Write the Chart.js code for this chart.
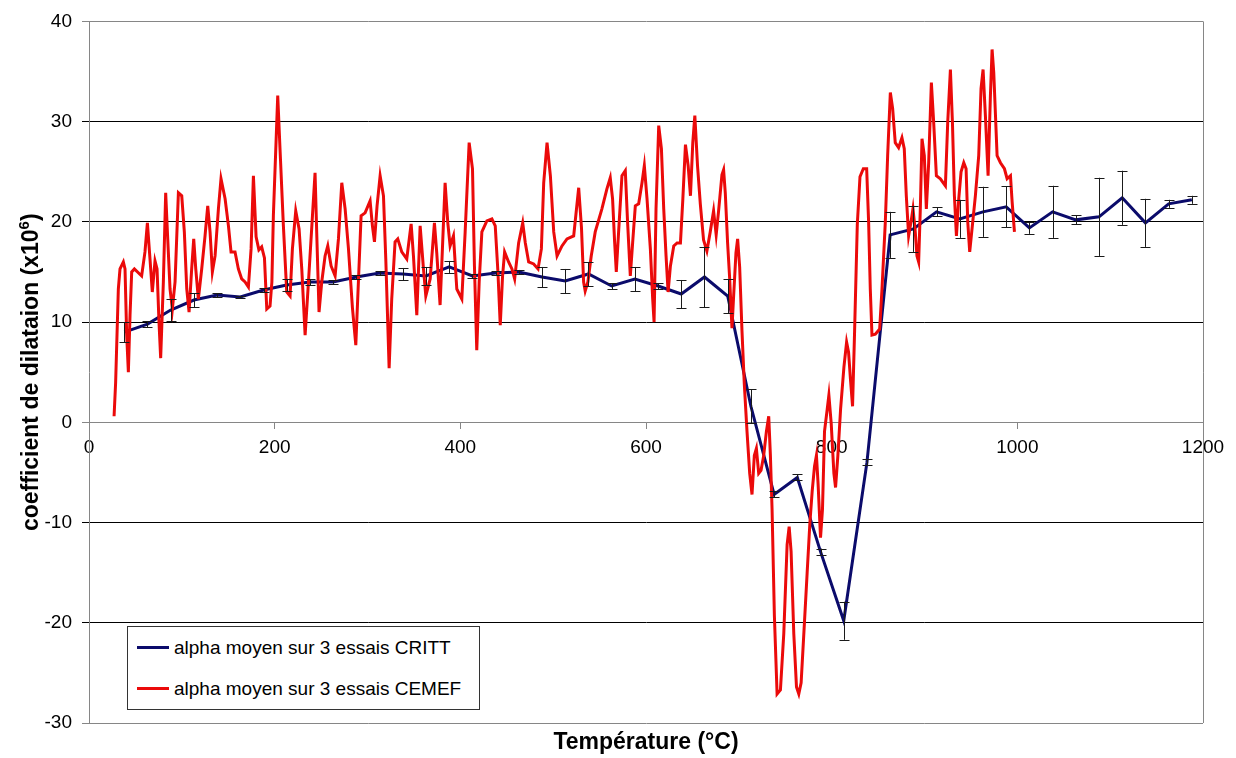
<!DOCTYPE html>
<html>
<head>
<meta charset="utf-8">
<script src="https://cdn.jsdelivr.net/npm/chart.js@4/dist/chart.umd.min.js"></script>
<style>
  html, body { margin: 0; padding: 0; background: #fff; }
  #wrap { position: relative; width: 1236px; height: 758px; }
  #legend {
    position: absolute; left: 127px; top: 626px; width: 351px; height: 82px;
    border: 1px solid #333; background: #fff;
    font-family: "Liberation Sans", Arial, sans-serif; font-size: 19px; color: #000;
  }
  .row { position: absolute; left: 9px; height: 22px; line-height: 22px; white-space: nowrap; }
  .row span.swatch { display: inline-block; width: 32px; height: 3px; vertical-align: middle; margin-right: 5px; position: relative; top: -1px; }
</style>
</head>
<body>
<div id="wrap">
  <canvas id="chart" width="1236" height="758"></canvas>
  <div id="legend">
    <div class="row" style="top:10px"><span class="swatch" style="background:#0b0b6b"></span>alpha moyen sur 3 essais CRITT</div>
    <div class="row" style="top:51px"><span class="swatch" style="background:#eb0a0a"></span>alpha moyen sur 3 essais CEMEF</div>
  </div>
</div>
<script>
// --- DATA ---
// CRITT: mean of 3 runs, with error bar half-widths
const critTemp = [38, 63, 88, 113, 138, 163, 188, 213, 238, 263, 288, 313, 338, 363, 388, 413,
  438, 463, 488, 513, 538, 563, 588, 613, 638, 663, 688, 713, 738, 763, 788, 813, 838, 863,
  888, 913, 938, 963, 988, 1013, 1038, 1063, 1088, 1113, 1138, 1163, 1188];
const critAlpha = [9.0, 9.8, 11.2, 12.2, 12.7, 12.5, 13.2, 13.7, 14.0, 14.0, 14.5, 14.9, 14.8, 14.6, 15.5, 14.6,
  14.9, 15.0, 14.5, 14.1, 14.8, 13.6, 14.3, 13.6, 12.8, 14.5, 12.6, 1.6, -7.2, -5.5, -12.9, -19.8, -4.0, 18.7,
  19.3, 21.0, 20.3, 21.0, 21.5, 19.4, 21.0, 20.2, 20.5, 22.4, 19.9, 21.8, 22.2];
const critErr = [1.0, 0.3, 1.1, 0.7, 0.2, 0.1, 0.2, 0.6, 0.3, 0.2, 0.2, 0.2, 0.6, 0.9, 0.6, 0.2,
  0.2, 0.2, 1.0, 1.2, 1.2, 0.3, 1.2, 0.3, 1.4, 3.0, 1.7, 1.7, 0.3, 0.3, 0.3, 1.9, 0.3, 2.3,
  2.3, 0.45, 1.9, 2.5, 2.05, 0.6, 2.6, 0.45, 3.9, 2.7, 2.4, 0.4, 0.4];

// CEMEF: mean of 3 runs
const cemefTemp = [27, 28.7, 31.6, 33.4, 37, 38.8, 40.6, 42.4, 44.2, 46, 48.9, 56.7, 60.3, 62.9, 65.7, 68.2,
  71.1, 73.3, 75.4, 77.2, 80.1, 82.6, 84.8, 87.3, 89.8, 92.7, 96.3, 99.9, 102.7, 105.3, 107.8, 110.6,
  112.8, 115, 117.8, 121.4, 125, 127.9, 130.4, 132.9, 135.8, 139.4, 142.2, 146.6, 150.2, 153, 157.3, 160.9,
  164.5, 168.1, 171.7, 174.6, 177.1, 180, 183, 186, 189, 191.5, 195, 197, 198.6, 203.3, 205.8, 209.4,
  213, 216.6, 219.1, 222.7, 226.3, 229.2, 232.8, 236.4, 240.7, 243.5, 245.3, 247.8, 250.7, 254.3, 257.2, 260.8,
  265.1, 268.7, 272.3, 275.9, 279.5, 283.8, 287.4, 290.2, 293.1, 297.4, 302.8, 305.3, 307.5, 310.3, 313.6, 317.2,
  319.7, 323.3, 326.1, 329.7, 332.6, 336.9, 342.3, 347, 349.5, 353.1, 356.7, 360.3, 362.8, 367.5, 372.1, 374.6,
  378.2, 380.7, 383.6, 386.5, 389, 392.6, 396.2, 401.6, 405.2, 409.5, 413.1, 415.2, 417.7, 420.3, 423.2, 428.6,
  434, 437.6, 440.5, 443, 445.5, 447.7, 452, 455.6, 458.5, 462.8, 467.2, 470, 473.6, 479, 483.7, 487.3,
  489.8, 493.4, 497, 500.6, 504.2, 509.5, 514.9, 522.1, 527.5, 530.5, 532.8, 534.5, 537.4, 541, 545.3, 552.5,
  557.9, 561.5, 564, 566.2, 568, 570.5, 574.1, 577.7, 580.2, 583.1, 585.6, 588.5, 592.1, 595.7, 598.2, 601.1,
  604.7, 607.2, 608.7, 610.8, 613.7, 616.6, 619.1, 621.6, 623.8, 626.3, 629.9, 633.5, 637.1, 639.7, 642.5, 645.4,
  647.9, 650.4, 652.6, 655.5, 658.5, 662, 665.6, 669.2, 672.8, 675.6, 678.2, 681.8, 683.6, 685.4, 687.9, 690.1,
  692.6, 694.4, 696.9, 698.7, 700.9, 703.4, 705.9, 708.8, 711.7, 714.2, 716.7, 718.9, 721.4, 723.9, 726.8, 729.7,
  732.2, 734, 735.8, 738.3, 741.2, 744.8, 748.4, 752, 754.2, 756.3, 759.2, 762.1, 764.6, 767.1, 770, 773.6,
  776.5, 779, 781.5, 783.6, 785.4, 788, 790.1, 792.3, 795.2, 797, 799.5, 802.4, 804.2, 806.7, 809.6, 813.2,
  816.1, 818.2, 820.4, 822.5, 824.7, 827.6, 830.5, 834.1, 837.7, 839.8, 841.6, 843.4, 847, 851.7, 854.2, 857.8,
  860.3, 863.2, 865.7, 868.5, 872.1, 875.7, 878.2, 880.4, 882.9, 885.5, 887.6, 889.8, 891.9, 893.7, 895.5, 897.3,
  899.8, 902, 904.5, 907.4, 909.9, 912.8, 917.1, 922.5, 925, 927.9, 930.1, 932.2, 934.4, 936.9, 939.4, 942.3,
  944.8, 946.6, 948.7, 951.2, 954.8, 958.4, 960.9, 963.1, 965.6, 968.5, 971, 972.8, 974.6, 978.2, 981.8, 986.1,
  989, 992.6, 994.4, 996.9];
const cemefAlpha = [0.6, 4.0, 13.3, 15.3, 16.0, 15.3, 8.7, 5.0, 10.7, 15.0, 15.3, 14.6, 17.0, 19.9, 16.3, 13.0,
  16.1, 15.3, 10.0, 6.4, 14.0, 22.9, 18.3, 13.3, 11.3, 14.0, 22.9, 22.6, 19.0, 13.3, 11.0, 15.3,
  18.3, 15.3, 12.3, 15.3, 18.6, 21.6, 19.0, 15.0, 16.6, 21.3, 24.3, 22.3, 19.6, 17.0, 17.0, 15.3,
  14.3, 14.0, 13.5, 17.3, 24.6, 18.5, 17.2, 17.5, 16.4, 11.3, 11.6, 14.0, 20.6, 32.6, 27.2, 19.6,
  13.0, 12.6, 17.3, 21.1, 19.3, 15.3, 8.7, 14.0, 20.6, 24.9, 18.9, 11.0, 14.0, 16.6, 17.6, 15.6,
  14.6, 18.3, 23.9, 21.3, 17.3, 11.4, 7.7, 14.0, 20.6, 20.9, 22.1, 19.6, 18.0, 21.6, 24.6, 22.6,
  16.3, 5.4, 12.3, 18.0, 18.3, 17.0, 16.3, 19.8, 16.6, 10.7, 19.6, 15.3, 12.6, 14.3, 19.9, 16.9,
  11.7, 17.3, 23.9, 19.9, 17.6, 18.6, 13.3, 12.3, 19.0, 27.9, 25.3, 15.6, 7.2, 14.0, 19.0, 20.1,
  20.3, 19.6, 15.0, 9.7, 14.6, 17.0, 16.0, 15.3, 14.3, 17.9, 19.9, 17.9, 16.0, 15.8, 15.3, 17.3,
  23.9, 27.9, 24.6, 19.0, 16.6, 17.6, 18.3, 18.6, 23.4, 19.4, 14.0, 13.1, 14.0, 16.6, 19.0, 21.3,
  23.3, 24.4, 22.3, 18.0, 15.0, 19.0, 24.6, 25.1, 19.9, 14.6, 17.9, 21.6, 21.8, 23.9, 25.6, 22.3,
  17.3, 12.3, 10.0, 21.3, 29.6, 27.3, 21.3, 16.6, 13.0, 15.6, 17.6, 17.9, 17.9, 22.3, 27.7, 25.6,
  22.6, 27.9, 30.6, 25.6, 21.8, 18.2, 17.1, 19.0, 21.1, 18.7, 21.1, 24.7, 25.2, 22.9, 17.9, 14.4,
  9.4, 12.6, 16.9, 18.3, 15.5, 9.1, 3.8, -0.9, -5.1, -7.2, -3.3, -2.6, -5.1, -4.8, -3.3, -0.9,
  0.6, -3.3, -8.7, -19.3, -27.1, -26.7, -21.1, -12.2, -10.4, -12.9, -21.1, -26.4, -27.1, -26.0, -21.1, -15.0,
  -10.1, -6.9, -4.4, -3.3, -6.2, -11.5, -8.7, -0.9, 1.3, 2.7, -0.1, -5.1, -6.5, -3.3, 1.3, 5.5,
  8.0, 7.0, 4.1, 1.6, 9.1, 19.7, 24.5, 25.3, 25.3, 20.0, 13.3, 8.7, 8.8, 9.3, 13.3, 20.0,
  26.6, 32.9, 31.3, 27.9, 27.4, 28.4, 27.3, 22.6, 18.6, 20.0, 21.3, 19.3, 16.6, 16.0, 21.3, 28.3,
  26.6, 21.3, 25.9, 33.9, 29.9, 24.6, 24.3, 23.6, 29.9, 35.2, 29.9, 22.6, 18.6, 22.3, 25.0, 25.9,
  25.3, 20.0, 17.0, 19.3, 22.6, 26.6, 33.3, 35.2, 30.6, 24.6, 32.6, 37.2, 34.9, 26.6, 25.9, 25.3,
  24.3, 24.6, 22.0, 19.0];

// axis ticks
const xTicks = [0, 200, 400, 600, 800, 1000, 1200];
const yTicks = [-30, -20, -10, 0, 10, 20, 30, 40];

const FONT = '"Liberation Sans", Arial, sans-serif';
const FRAME_GREY = '#868686';
const TITLE_SIZE = 23;

// --- PLUGINS ---
// vertical error bars with caps on the CRITT series
const errorBars = {
  id: 'errorBars',
  afterDatasetsDraw(chart) {
    const { ctx, scales: { x, y } } = chart;
    ctx.save();
    ctx.strokeStyle = '#1a1a1a';
    ctx.lineWidth = 1;
    critTemp.forEach((t, i) => {
      const e = critErr[i];
      if (!e) return;
      const px = Math.round(x.getPixelForValue(t)) + 0.5;
      const top = y.getPixelForValue(critAlpha[i] + e);
      const bot = y.getPixelForValue(critAlpha[i] - e);
      ctx.beginPath();
      ctx.moveTo(px, top); ctx.lineTo(px, bot);
      ctx.moveTo(px - 5, Math.round(top) + 0.5); ctx.lineTo(px + 5, Math.round(top) + 0.5);
      ctx.moveTo(px - 5, Math.round(bot) + 0.5); ctx.lineTo(px + 5, Math.round(bot) + 0.5);
      ctx.stroke();
    });
    ctx.restore();
  }
};

// right border of plot area + axis titles
const frameAndTitles = {
  id: 'frameAndTitles',
  afterDraw(chart) {
    const { ctx, chartArea: a } = chart;
    ctx.save();
    ctx.strokeStyle = FRAME_GREY;
    ctx.lineWidth = 1;
    ctx.beginPath();
    ctx.moveTo(Math.round(a.right) + 0.5, a.top);
    ctx.lineTo(Math.round(a.right) + 0.5, a.bottom);
    ctx.stroke();

    const big = 'bold ' + TITLE_SIZE + 'px ' + FONT;
    const small = 'bold 15px ' + FONT;

    ctx.fillStyle = '#000';
    ctx.font = big;
    ctx.textAlign = 'center';
    ctx.textBaseline = 'middle';
    ctx.fillText('Température (°C)', (a.left + a.right) / 2, 743);

    // y title with superscript exponent
    const main = 'coefficient de dilataion (x10';
    const sup = '6';
    const end = ')';
    ctx.font = big;
    const wMain = ctx.measureText(main).width;
    const wEnd = ctx.measureText(end).width;
    ctx.font = small;
    const wSup = ctx.measureText(sup).width;
    const total = wMain + wSup + wEnd;
    ctx.translate(30, (a.top + a.bottom) / 2);
    ctx.rotate(-Math.PI / 2);
    ctx.textAlign = 'left';
    ctx.textBaseline = 'alphabetic';
    let cx = -total / 2;
    ctx.font = big;
    ctx.fillText(main, cx, 8);
    cx += wMain;
    ctx.font = small;
    ctx.fillText(sup, cx, -1);
    cx += wSup;
    ctx.font = big;
    ctx.fillText(end, cx, 8);
    ctx.restore();
  }
};

// --- CHART ---
const ctx = document.getElementById('chart');
new Chart(ctx, {
  type: 'scatter',
  data: {
    datasets: [
      {
        label: 'alpha moyen sur 3 essais CRITT',
        data: critTemp.map((t, i) => ({ x: t, y: critAlpha[i] })),
        showLine: true,
        borderColor: '#0b0b6b',
        borderWidth: 3,
        pointRadius: 0,
        tension: 0,
        order: 1
      },
      {
        label: 'alpha moyen sur 3 essais CEMEF',
        data: cemefTemp.map((t, i) => ({ x: t, y: cemefAlpha[i] })),
        showLine: true,
        borderColor: '#eb0a0a',
        borderWidth: 3,
        pointRadius: 0,
        tension: 0,
        order: 0
      }
    ]
  },
  options: {
    responsive: false,
    animation: false,
    devicePixelRatio: 1,
    layout: { padding: { top: 18, right: 33, bottom: 35, left: 0 } },
    plugins: {
      legend: { display: false },
      tooltip: { enabled: false }
    },
    scales: {
      x: {
        type: 'linear',
        min: 0, max: 1200,
        position: { y: 0 },
        afterBuildTicks: s => { s.ticks = xTicks.map(v => ({ value: v })); },
        ticks: {
          color: '#000', font: { family: FONT, size: 19 }, padding: 8,
          maxRotation: 0, callback: v => String(v)
        },
        grid: { drawOnChartArea: false, drawTicks: true, tickLength: 6, color: FRAME_GREY },
        border: { display: true, color: FRAME_GREY, width: 1 }
      },
      y: {
        type: 'linear',
        min: -30, max: 40,
        position: 'left',
        afterFit: s => { s.width = 89; },
        afterBuildTicks: s => { s.ticks = yTicks.map(v => ({ value: v })); },
        ticks: {
          color: '#000', font: { family: FONT, size: 19 }, padding: 10,
          callback: v => String(v)
        },
        grid: {
          color: c => ([40, 0, -30].includes(c.tick.value) ? FRAME_GREY : '#000'),
          drawTicks: true, tickLength: 7, lineWidth: 1
        },
        border: { display: true, color: FRAME_GREY, width: 1 }
      }
    }
  },
  plugins: [errorBars, frameAndTitles]
});
</script>
</body>
</html>
